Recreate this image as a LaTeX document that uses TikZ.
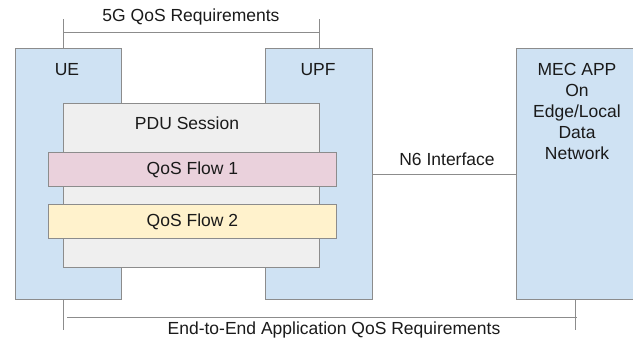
\documentclass[tikz,border=0pt]{standalone}
\usepackage{fontspec}
\setmainfont{Liberation Sans}
\definecolor{boxblue}{HTML}{CFE2F3}
\definecolor{boxgray}{HTML}{EFEFEF}
\definecolor{boxpink}{HTML}{EAD1DC}
\definecolor{boxyellow}{HTML}{FFF2CC}
\definecolor{edge}{HTML}{8C8C8C}
\definecolor{ink}{HTML}{1A1A1A}
\tikzset{
  shape box/.style={draw=edge, line width=0.9pt, rectangle, inner sep=0pt, anchor=north west},
  bluebox/.style={shape box, fill=boxblue},
  graybox/.style={shape box, fill=boxgray},
  pinkbox/.style={shape box, fill=boxpink},
  yellowbox/.style={shape box, fill=boxyellow},
  lbl/.style={text=ink, font=\fontsize{17.5}{21}\selectfont, inner sep=0pt, align=center},
  conn/.style={draw=edge, line width=0.9pt}
}
\begin{document}
\begin{tikzpicture}[x=1pt,y=-1pt]
\useasboundingbox (0,0) rectangle (633,343);
\clip (0,0) rectangle (633,343);
% main blocks
\node[bluebox, minimum width=106pt, minimum height=251pt] (ue) at (15,48) {};
\node[bluebox, minimum width=107pt, minimum height=251pt] (upf) at (265,48) {};
\node[bluebox, minimum width=125pt, minimum height=251pt] (mec) at (516,48) {};
\node[lbl] (uelbl) at (67,70) {UE};
\node[lbl] (upflbl) at (318,70) {UPF};
\node[lbl, anchor=north] (meclbl) at (577,63) {MEC APP\\On\\Edge/Local\\Data\\Network};
% PDU session
\node[graybox, minimum width=256pt, minimum height=164pt] (pdu) at (63,103) {};
\node[lbl] (pdulbl) at (187,123) {PDU Session};
\node[pinkbox, minimum width=288pt, minimum height=34pt] (qf1) at (48,152) {};
\node[lbl] at (qf1.center) (qf1lbl) {QoS Flow 1};
\node[yellowbox, minimum width=288pt, minimum height=34pt] (qf2) at (48,204) {};
\node[lbl] at (qf2.center) (qf2lbl) {QoS Flow 2};
% N6 interface
\draw[conn] (upf.east |- 0,174) coordinate (n6a) -- (mec.west |- 0,174) coordinate (n6b);
\node[lbl] (n6lbl) at (447,159) {N6 Interface};
% 5G QoS requirements
\coordinate (t1) at (63,19);
\coordinate (t2) at (319,19);
\draw[conn] (t1) -- (t1 |- ue.north);
\draw[conn] (t2) -- (t2 |- upf.north);
\draw[conn] (63,32) coordinate (r1) -- (319,32) coordinate (r2);
\node[lbl] (req5g) at (191,17) {5G QoS Requirements};
% End-to-end requirements
\coordinate (b1) at (63,330);
\coordinate (b2) at (575,330);
\draw[conn] (b1 |- ue.south) -- (b1);
\draw[conn] (b2 |- mec.south) -- (b2);
\draw[conn] (67,317) coordinate (e1) -- (577,317) coordinate (e2);
\node[lbl] (e2elbl) at (334,330) {End-to-End Application QoS Requirements};
\end{tikzpicture}
\end{document}
